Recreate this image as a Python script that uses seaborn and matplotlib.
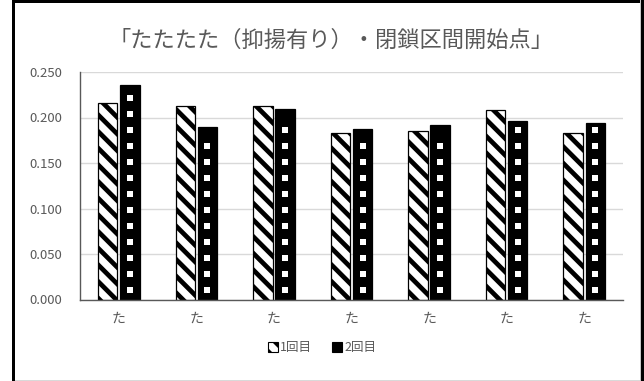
import matplotlib
matplotlib.use("Agg")
import matplotlib.pyplot as plt
import seaborn as sns
import pandas as pd
from matplotlib.patches import Patch, Rectangle

categories = ["た", "た", "た", "た", "た", "た", "た"]
series_names = ["1回目", "2回目"]
values_1 = [0.216, 0.213, 0.213, 0.183, 0.185, 0.208, 0.183]
values_2 = [0.236, 0.190, 0.209, 0.187, 0.192, 0.196, 0.194]
title = "「たたたた（抑揚有り）・閉鎖区間開始点」"
yticks = [0.0, 0.05, 0.10, 0.15, 0.20, 0.25]

sns.set_theme(style="white")
plt.rcParams['font.family'] = ['Noto Sans CJK JP', 'DejaVu Sans']
plt.rcParams['hatch.linewidth'] = 3.4

W, H = 644, 381
fig = plt.figure(figsize=(W / 100, H / 100), dpi=100)
ax = fig.add_axes([80 / W, 1 - 299.5 / H, 543 / W, 227.5 / H])

n = len(categories)
df = pd.DataFrame({
    "pos": list(range(n)) * 2,
    "value": values_1 + values_2,
    "series": [series_names[0]] * n + [series_names[1]] * n,
})

sns.barplot(data=df, x="pos", y="value", hue="series", order=list(range(n)),
            hue_order=series_names, palette=["white", "black"],
            width=0.57, gap=0.12, ax=ax, legend=False, saturation=1)

patches = list(ax.patches)
s1 = patches[:n]
s2 = patches[n:2 * n]
for p in s1:
    p.set_facecolor("white")
    p.set_edgecolor("black")
    p.set_linewidth(0.9)
    p.set_hatch("\\\\")
for p in s2:
    p.set_facecolor("black")
    p.set_edgecolor("black")
    p.set_linewidth(0.9)

# white dots inside series-2 bars (derived from bar geometry)
px_per_unit = 227.5 / 0.25
step = 16 / px_per_unit
xs, ys = [], []
for p in s2:
    cx = p.get_x() + p.get_width() / 2
    top = p.get_y() + p.get_height()
    y = 10 / px_per_unit
    while y < top - 6 / px_per_unit:
        xs.append(cx)
        ys.append(y)
        y += step
ax.scatter(xs, ys, marker="s", s=14, color="white", linewidths=0, zorder=5)

ax.set_ylim(0, 0.25)
ax.set_xlim(-0.5, n - 0.5)
ax.set_yticks(yticks)
ax.set_yticklabels([f"{v:.3f}" for v in yticks])
ax.set_xticks(range(n))
ax.set_xticklabels(categories)
ax.set_xlabel("")
ax.set_ylabel("")
ax.grid(axis="y", color="#d9d9d9", linewidth=1)
ax.set_axisbelow(True)
ax.tick_params(axis="y", length=0, pad=13, labelsize=9.5, labelcolor="#595959")
ax.tick_params(axis="x", length=0, pad=9, labelsize=10, labelcolor="#595959")
for side in ["top", "right"]:
    ax.spines[side].set_visible(False)
for side in ["left", "bottom"]:
    ax.spines[side].set_color("#595959")
    ax.spines[side].set_linewidth(1)

fig.text(331.5 / W, 1 - 40 / H, title, ha="center", va="center",
         fontsize=16, color="#595959")

handles = [Patch(facecolor="white", edgecolor="black", hatch="\\\\", linewidth=0.8),
           Patch(facecolor="black", edgecolor="black", linewidth=0.8)]
fig.legend(handles, series_names, loc="center", bbox_to_anchor=(322 / W, 1 - 348 / H),
           ncol=2, frameon=False, fontsize=9, labelcolor="#595959",
           handlelength=0.8, handleheight=0.8, handletextpad=0.2, columnspacing=1.6)

# chart frame
def band(y0, y1, x0, x1, color):
    fig.add_artist(Rectangle((x0 / W, 1 - y1 / H), (x1 - x0) / W, (y1 - y0) / H,
                             transform=fig.transFigure, facecolor=color,
                             edgecolor="none", zorder=10))

band(0, 3, 12, 644, "black")
band(0, H, 12, 14.5, "black")
band(0, H, 641, 644, "black")
band(0, H, 639.5, 640.5, "#c8c8c8")
band(379.5, 380.5, 14.5, 639.5, "#d9d9d9")

fig.savefig("out.png", dpi=100)
